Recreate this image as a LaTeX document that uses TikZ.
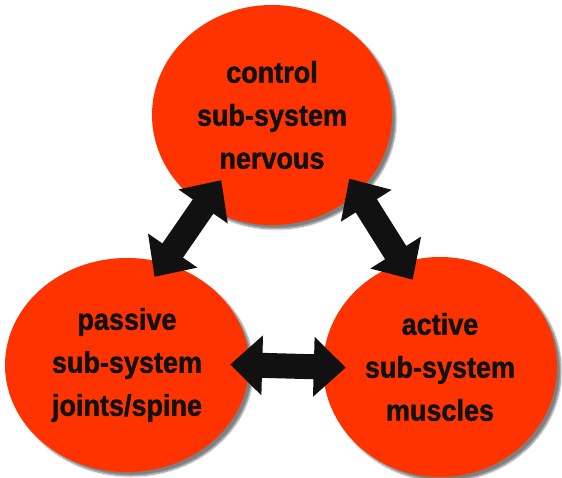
\documentclass[tikz,border=0pt]{standalone}
\usepackage{fontspec}
\newfontfamily\sysfont{Liberation Sans}[FakeStretch=0.9,FakeBold=1.2]
\usetikzlibrary{arrows.meta,shapes.geometric,shadows.blur}
\definecolor{sysred}{RGB}{255,51,0}
\definecolor{inkblack}{RGB}{17,17,17}

\begin{document}
\begin{tikzpicture}[x=1pt,y=-1pt,
	sys/.style={ellipse,fill=sysred,inner sep=0pt,align=center,text=inkblack,
		font=\sysfont\bfseries\fontsize{30}{43}\selectfont,
		blur shadow={shadow xshift=4pt,shadow yshift=-4pt,shadow blur steps=6,shadow opacity=50}},
	link/.style={draw=inkblack,line width=25pt,
		{Triangle[length=32pt,width=58pt]}-{Triangle[length=32pt,width=58pt]}}]
	\useasboundingbox (0,0) rectangle (562,478);
	\node[sys,minimum width=240pt,minimum height=220pt] (ctrl) at (272,115) {control\\sub-system\\nervous};
	\node[sys,minimum width=244pt,minimum height=214pt] (pass) at (127,365) {passive\\sub-system\\joints/spine};
	\node[sys,minimum width=234pt,minimum height=220pt] (act) at (440,367) {active\\sub-system\\muscles};
	\draw[link,shorten <=-31pt,shorten >=-17pt] (ctrl.233) -- (pass.70);
	\draw[link,shorten <=-16pt,shorten >=-20pt] (ctrl.318) -- (act.110);
	\draw[link,shorten <=-19pt,shorten >=-23pt] (pass.east) -- (act.west);
\end{tikzpicture}
\end{document}
